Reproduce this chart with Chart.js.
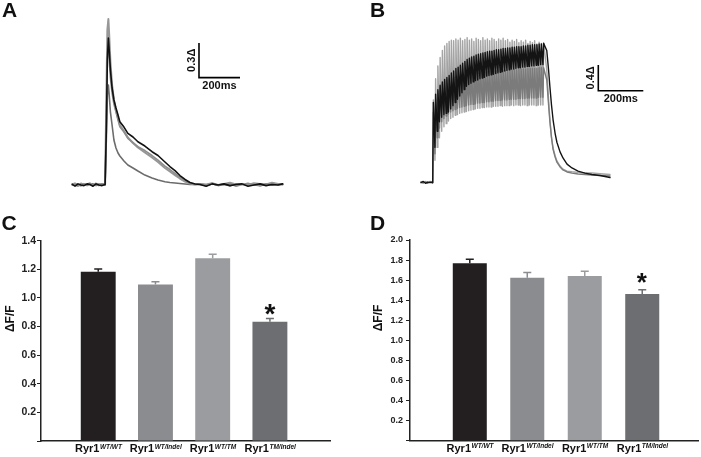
<!DOCTYPE html>
<html>
<head>
<meta charset="utf-8">
<script src="https://cdn.jsdelivr.net/npm/chart.js@4.4.0/dist/chart.umd.min.js"></script>
<style>
  html, body { margin: 0; padding: 0; background: #fff; }
  body { width: 701px; height: 457px; position: relative; overflow: hidden; }
  canvas { position: absolute; }
</style>
</head>
<body>
<canvas id="chartA" width="350" height="200" style="left:0;top:0"></canvas>
<canvas id="chartB" width="351" height="200" style="left:350px;top:0"></canvas>
<canvas id="chartC" width="345" height="247" style="left:0;top:210px"></canvas>
<canvas id="chartD" width="351" height="247" style="left:350px;top:210px"></canvas>
<script>
// ---- Panel A: single twitch transients (time in ms, amplitude in dF/F) ----
const aTimeMs = [0, 13, 28, 42, 57, 72, 86, 101, 116, 130, 145, 160,
  166, 171, 176, 180, 186, 194, 203, 213, 223, 232, 252, 271, 296, 320, 354, 389, 418, 452, 476, 501, 525, 550, 574, 599,
  623, 653, 682, 711, 740, 769, 799, 828, 857, 886, 916, 945, 974, 1004, 1026];
const aWtWt = [0.005, -0.01, 0.01, 0, -0.005, 0.01, 0.005, -0.01, 0.01, 0, -0.005, 0.005,
  0.476, 1.081, 1.271, 1.167, 0.994, 0.839, 0.735, 0.666, 0.605, 0.547, 0.501, 0.447, 0.415, 0.374, 0.337, 0.288, 0.255, 0.199, 0.160, 0.125, 0.082, 0.048, 0.022, 0.009,
  0.005, -0.01, 0.01, 0, 0.01, -0.005, 0.005, 0.01, -0.01, 0, 0.01, -0.005, 0.005, 0, 0.01];
const aWtIndel = [0.01, 0, -0.01, 0.015, 0.005, -0.005, 0.01, 0, 0.015, -0.005, 0.01, 0.005,
  0.562, 1.167, 1.210, 1.081, 0.925, 0.795, 0.700, 0.631, 0.562, 0.504, 0.458, 0.404, 0.367, 0.331, 0.298, 0.255, 0.216, 0.164, 0.134, 0.101, 0.069, 0.039, 0.017, 0.009,
  0.01, 0, 0.015, -0.005, 0.005, 0.01, -0.01, 0.005, 0.015, 0, -0.005, 0.01, 0.005, 0, 0.01];
const aWtTm = [0.005, 0.015, 0, -0.005, 0.01, 0.005, 0.015, -0.005, 0.005, 0.01, 0, 0.01,
  0.735, 1.340, 1.435, 1.297, 1.063, 0.865, 0.735, 0.648, 0.579, 0.519, 0.467, 0.411, 0.363, 0.324, 0.281, 0.238, 0.199, 0.147, 0.117, 0.086, 0.056, 0.030, 0.013, 0.004,
  0.01, 0.005, 0.015, 0, 0.01, 0.02, 0.005, 0.01, 0, 0.015, 0.01, 0.005, 0.02, 0.01, 0.005];
const aTmIndel = [0, 0.01, 0.005, -0.005, 0.01, 0, 0.005, 0.01, -0.005, 0.005, 0.01, 0,
  0.389, 0.778, 0.865, 0.778, 0.631, 0.519, 0.389, 0.320, 0.277, 0.251, 0.208, 0.173, 0.147, 0.121, 0.086, 0.061, 0.043, 0.029, 0.022, 0.017, 0.013, 0.009, 0.004, 0.004,
  0.005, -0.005, 0.01, 0, 0.005, -0.005, 0.01, 0.005, 0, 0.01, -0.005, 0.005, 0, 0.01, 0.005];

// ---- Panel B: 100 Hz tetanus (trough at each stimulus, peak a few ms later) ----
const bPreMs = [0, 10, 20, 30, 40, 48];
const bStimMs = [52, 62, 72, 82, 92, 102, 112, 122, 132, 142, 152, 162, 172, 182, 192, 202, 212, 222, 232, 242,
  252, 262, 272, 282, 292, 302, 312, 322, 332, 342, 352, 362, 372, 382, 392, 402, 412, 422, 432, 442,
  452, 462, 472, 482, 492, 502, 512, 522, 532, 542];
const B_RISE_MS = 3;
const bPostMs = [559, 567, 573, 580, 587, 596, 604, 618, 631, 649, 671, 698, 729, 760, 796, 840];

const bBlackPre = [0, 0.02, -0.01, 0.01, 0, 0.01];
const bBlackTroughs = [0.00, 0.55, 0.80, 0.95, 1.02, 1.06, 1.08, 1.10, 1.15, 1.20, 1.25, 1.30, 1.35, 1.40, 1.45, 1.50, 1.53, 1.55, 1.57, 1.59,
  1.60, 1.62, 1.63, 1.64, 1.66, 1.67, 1.68, 1.69, 1.70, 1.71, 1.72, 1.73, 1.74, 1.75, 1.76, 1.77, 1.77, 1.78, 1.79, 1.79,
  1.80, 1.80, 1.81, 1.81, 1.82, 1.82, 1.83, 1.83, 1.84, 1.84];
const bBlackPeaks = [1.25, 1.38, 1.45, 1.52, 1.57, 1.61, 1.64, 1.67, 1.71, 1.74, 1.78, 1.80, 1.83, 1.86, 1.89, 1.92, 1.94, 1.96, 1.97, 1.99,
  2.00, 2.01, 2.02, 2.03, 2.04, 2.05, 2.05, 2.06, 2.07, 2.07, 2.08, 2.09, 2.09, 2.10, 2.10, 2.11, 2.11, 2.12, 2.12, 2.12,
  2.13, 2.13, 2.14, 2.14, 2.15, 2.15, 2.15, 2.16, 2.16, 2.17];
const bBlackPost = [2.06, 1.755, 1.49, 1.21, 0.98, 0.77, 0.63, 0.48, 0.385, 0.29, 0.23, 0.18, 0.15, 0.128, 0.112, 0.081];

const bLightPre = [0.01, -0.01, 0.02, 0, 0.01, 0];
const bLightTroughs = [0.00, 0.35, 0.55, 0.70, 0.80, 0.87, 0.92, 0.96, 1.00, 1.02, 1.05, 1.06, 1.08, 1.09, 1.10, 1.11, 1.12, 1.13, 1.14, 1.15,
  1.16, 1.16, 1.17, 1.17, 1.18, 1.18, 1.18, 1.19, 1.19, 1.19, 1.20, 1.19, 1.20, 1.20, 1.20, 1.21, 1.20, 1.21, 1.21, 1.20,
  1.21, 1.21, 1.20, 1.21, 1.21, 1.21, 1.20, 1.21, 1.21, 1.21];
const bLightPeaks = [1.29, 1.62, 1.82, 1.95, 2.06, 2.13, 2.17, 2.20, 2.22, 2.21, 2.24, 2.22, 2.25, 2.21, 2.23, 2.26, 2.22, 2.24, 2.20, 2.25,
  2.23, 2.21, 2.26, 2.22, 2.24, 2.21, 2.25, 2.23, 2.20, 2.24, 2.22, 2.25, 2.21, 2.23, 2.19, 2.22, 2.20, 2.23, 2.18, 2.21,
  2.19, 2.22, 2.17, 2.20, 2.18, 2.21, 2.16, 2.19, 2.17, 2.18];
const bLightPost = [1.755, 1.29, 0.98, 0.71, 0.54, 0.42, 0.34, 0.26, 0.21, 0.18, 0.17, 0.16, 0.15, 0.15, 0.14, 0.128];

const bDarkPre = [0.01, 0, 0.01, -0.01, 0.02, 0];
const bDarkTroughs = [0.00, 0.45, 0.70, 0.85, 0.95, 1.00, 1.04, 1.07, 1.10, 1.12, 1.14, 1.16, 1.17, 1.18, 1.19, 1.20, 1.21, 1.22, 1.22, 1.23,
  1.24, 1.24, 1.25, 1.25, 1.26, 1.26, 1.27, 1.27, 1.28, 1.28, 1.28, 1.29, 1.29, 1.29, 1.30, 1.30, 1.30, 1.30, 1.31, 1.31,
  1.31, 1.31, 1.32, 1.32, 1.32, 1.32, 1.32, 1.33, 1.33, 1.33];
const bDarkPeaks = [1.10, 1.30, 1.42, 1.50, 1.55, 1.58, 1.60, 1.62, 1.63, 1.64, 1.65, 1.66, 1.67, 1.67, 1.68, 1.69, 1.69, 1.70, 1.70, 1.71,
  1.71, 1.72, 1.72, 1.72, 1.73, 1.73, 1.73, 1.74, 1.74, 1.74, 1.75, 1.75, 1.75, 1.75, 1.76, 1.76, 1.76, 1.76, 1.77, 1.77,
  1.77, 1.77, 1.78, 1.78, 1.78, 1.78, 1.78, 1.79, 1.79, 1.79];
const bDarkPost = [1.60, 1.21, 0.945, 0.70, 0.52, 0.40, 0.32, 0.245, 0.198, 0.167, 0.15, 0.135, 0.128, 0.12, 0.112, 0.104];

// ---- Panels C and D: mean amplitudes with SEM ----
const genotypes = ['WT/WT', 'WT/Indel', 'WT/TM', 'TM/Indel'];
const cValues = [1.183, 1.093, 1.277, 0.834];
const cErrors = [0.02, 0.02, 0.028, 0.023];
const dValues = [1.768, 1.625, 1.641, 1.462];
const dErrors = [0.04, 0.05, 0.047, 0.043];
const dTicks = [0.2, 0.4, 0.6, 0.8, 1.0, 1.2, 1.4, 1.6, 1.8, 2.0];

const barColors = ['#231f20', '#8b8c8f', '#9b9c9f', '#6d6e71'];
const FONT = '"Liberation Sans", Arial, Helvetica, sans-serif';

Chart.defaults.font.family = FONT;
Chart.defaults.animation = false;

function xy(times, vals) {
  return times.map((t, i) => ({ x: t, y: vals[i] }));
}

function tetanusTrace(pre, troughs, peaks, post) {
  const pts = xy(bPreMs, pre);
  bStimMs.forEach((t, i) => {
    pts.push({ x: t, y: troughs[i] });
    pts.push({ x: t + B_RISE_MS, y: peaks[i] });
  });
  return pts.concat(xy(bPostMs, post));
}

function traceSet(data, color, width) {
  return {
    data: data, borderColor: color, borderWidth: width, pointRadius: 0, tension: 0, fill: false,
    borderJoinStyle: 'round', borderCapStyle: 'round'
  };
}

function scaleBarSet(bar) {
  return {
    data: [{ x: bar.x0, y: bar.y0 + bar.dy }, { x: bar.x0, y: bar.y0 }, { x: bar.x0 + bar.dx, y: bar.y0 }],
    borderColor: '#000', borderWidth: 1.6, pointRadius: 0, borderJoinStyle: 'miter', fill: false
  };
}

function drawLetter(ctx, text, x, y) {
  ctx.font = 'bold 21px ' + FONT;
  ctx.fillStyle = '#111';
  ctx.textAlign = 'left';
  ctx.textBaseline = 'alphabetic';
  ctx.fillText(text, x, y);
}

// letters + scale bar captions for trace panels
const tracePanel = {
  id: 'tracePanel',
  afterDraw(chart, args, opts) {
    const { ctx, scales: { x, y } } = chart;
    const b = opts.bar;
    const x0 = x.getPixelForValue(b.x0), x1 = x.getPixelForValue(b.x0 + b.dx);
    const y0 = y.getPixelForValue(b.y0), y1 = y.getPixelForValue(b.y0 + b.dy);
    ctx.save();
    drawLetter(ctx, opts.letter, opts.letterX, opts.letterY);
    ctx.font = 'bold 11px ' + FONT;
    ctx.fillStyle = '#111';
    ctx.textAlign = 'center';
    ctx.textBaseline = 'middle';
    ctx.fillText(opts.timeText, (x0 + x1) / 2, y0 + 8);
    ctx.translate(x0 - 7.5, (y0 + y1) / 2);
    ctx.rotate(-Math.PI / 2);
    ctx.fillText(opts.ampText, 0, 0);
    ctx.restore();
  }
};

// error bars, asterisk, genotype labels, y title, letter for bar panels
const barPanel = {
  id: 'barPanel',
  afterDraw(chart, args, opts) {
    const { ctx, chartArea, scales: { x, y } } = chart;
    const meta = chart.getDatasetMeta(0);
    ctx.save();
    meta.data.forEach((bar, i) => {
      const top = y.getPixelForValue(opts.values[i] + opts.errors[i]);
      ctx.strokeStyle = barColors[i];
      ctx.lineWidth = 1.5;
      ctx.beginPath();
      ctx.moveTo(bar.x, bar.y);
      ctx.lineTo(bar.x, top);
      ctx.moveTo(bar.x - 4, top);
      ctx.lineTo(bar.x + 4, top);
      ctx.stroke();
    });

    // significance star
    const si = opts.star.index;
    const sTop = y.getPixelForValue(opts.values[si] + opts.errors[si]);
    ctx.font = 'bold ' + opts.star.size + 'px ' + FONT;
    ctx.fillStyle = '#111';
    ctx.textAlign = 'left';
    ctx.textBaseline = 'alphabetic';
    const m = ctx.measureText('*');
    const cx = meta.data[si].x, cy = sTop - opts.star.gap;
    ctx.fillText('*', cx - (m.actualBoundingBoxRight - m.actualBoundingBoxLeft) / 2,
      cy + (m.actualBoundingBoxAscent - m.actualBoundingBoxDescent) / 2);

    // genotype labels with italic superscript
    const base = chartArea.bottom + 11;
    genotypes.forEach((g, i) => {
      const px = x.getPixelForValue(i + 1);
      ctx.font = 'bold 11px ' + FONT;
      const w1 = ctx.measureText('Ryr1').width;
      ctx.font = 'italic bold 6.5px ' + FONT;
      const w2 = ctx.measureText(g).width;
      const left = px - (w1 + w2) / 2;
      ctx.fillStyle = '#111';
      ctx.font = 'bold 11px ' + FONT;
      ctx.fillText('Ryr1', left, base);
      ctx.font = 'italic bold 6.5px ' + FONT;
      ctx.fillText(g, left + w1 + 0.5, base - 3.5);
    });

    // y title
    ctx.save();
    ctx.font = 'bold 12px ' + FONT;
    ctx.textAlign = 'center';
    ctx.textBaseline = 'middle';
    ctx.translate(chartArea.left - opts.titleDx, chartArea.top + 78);
    ctx.rotate(-Math.PI / 2);
    ctx.fillText('\u0394F/F', 0, 0);
    ctx.restore();

    drawLetter(ctx, opts.letter, opts.letterX, 20);
    ctx.restore();
  }
};

const scaleBarA = { x0: 618, y0: 0.928, dx: 200, dy: 0.3 };
const scaleBarB = { x0: 788, y0: 1.433, dx: 200, dy: 0.4 };

new Chart(document.getElementById('chartA'), {
  type: 'line',
  data: {
    datasets: [
      traceSet(xy(aTimeMs, aWtWt), '#111111', 1.6),
      traceSet(xy(aTimeMs, aWtIndel), '#8e8e8e', 1.6),
      traceSet(xy(aTimeMs, aWtTm), '#979797', 2),
      traceSet(xy(aTimeMs, aTmIndel), '#6c6c6c', 1.6),
      scaleBarSet(scaleBarA)
    ]
  },
  options: {
    responsive: false, devicePixelRatio: 1,
    layout: { padding: { left: 31.3, right: 31.7, top: 5.7, bottom: 3.4 } },
    scales: {
      x: { type: 'linear', display: false, min: -200, max: 1200 },
      y: { type: 'linear', display: false, min: -0.1, max: 1.55 }
    },
    plugins: {
      legend: { display: false }, tooltip: { enabled: false },
      tracePanel: { bar: scaleBarA, letter: 'A', letterX: 2, letterY: 16.7, timeText: '200ms', ampText: '0.3\u0394' }
    }
  },
  plugins: [tracePanel]
});

new Chart(document.getElementById('chartB'), {
  type: 'line',
  data: {
    datasets: [
      traceSet(tetanusTrace(bBlackPre, bBlackTroughs, bBlackPeaks, bBlackPost), '#141414', 1.4),
      traceSet(tetanusTrace(bDarkPre, bDarkTroughs, bDarkPeaks, bDarkPost), '#7b7b7b', 1.4),
      traceSet(tetanusTrace(bLightPre, bLightTroughs, bLightPeaks, bLightPost), '#a4a4a4', 1.4),
      scaleBarSet(scaleBarB)
    ]
  },
  options: {
    responsive: false, devicePixelRatio: 1,
    layout: { padding: { left: 48.5, right: 10, top: 2.94, bottom: 4.46 } },
    scales: {
      x: { type: 'linear', display: false, min: -100, max: 1200 },
      y: { type: 'linear', display: false, min: -0.2, max: 2.8 }
    },
    plugins: {
      legend: { display: false }, tooltip: { enabled: false },
      tracePanel: { bar: scaleBarB, letter: 'B', letterX: 20, letterY: 17, timeText: '200ms', ampText: '0.4\u0394' }
    }
  },
  plugins: [tracePanel]
});

function barChart(id, values, errors, yMax, xMin, xMax, pad, yWidth, xHeight, tickSize, tickPad, star, titleDx, letter, letterX) {
  return new Chart(document.getElementById(id), {
    type: 'bar',
    data: {
      datasets: [{
        data: values.map((v, i) => ({ x: i + 1, y: v })),
        backgroundColor: barColors, borderWidth: 0,
        barPercentage: 0.61, categoryPercentage: 1
      }]
    },
    options: {
      responsive: false, devicePixelRatio: 1,
      layout: { padding: pad },
      scales: {
        x: {
          type: 'linear', min: xMin, max: xMax, offset: false,
          ticks: { display: false }, grid: { display: false, drawTicks: false },
          border: { display: true, color: '#222', width: 1.5 },
          afterFit: s => { s.height = xHeight; }
        },
        y: {
          min: 0, max: yMax,
          ticks: {
            stepSize: 0.2, padding: tickPad, color: '#222',
            font: { weight: 'bold', size: tickSize },
            callback: v => (v === 0 ? '' : v.toFixed(1))
          },
          grid: { drawOnChartArea: false, drawTicks: true, tickLength: 4, color: '#222' },
          border: { display: true, color: '#222', width: 1.5 },
          afterFit: s => { s.width = yWidth; }
        }
      },
      plugins: {
        legend: { display: false }, tooltip: { enabled: false },
        barPanel: { values: values, errors: errors, star: star, titleDx: titleDx, letter: letter, letterX: letterX }
      }
    },
    plugins: [barPanel]
  });
}

barChart('chartC', cValues, cErrors, 1.4, 0, 5.05, { top: 30.7, right: 15, left: 0, bottom: 0 }, 41, 16, 10.5, 1,
  { index: 3, gap: 8.5, size: 28 }, 30, 'C', 1.5);
barChart('chartD', dValues, dErrors, dTicks[dTicks.length - 1], -0.04, 4.97, { top: 30, right: 3, left: 0, bottom: 0 }, 60, 16.3, 9, 3,
  { index: 3, gap: 12, size: 26 }, 31, 'D', 20);
</script>
</body>
</html>
